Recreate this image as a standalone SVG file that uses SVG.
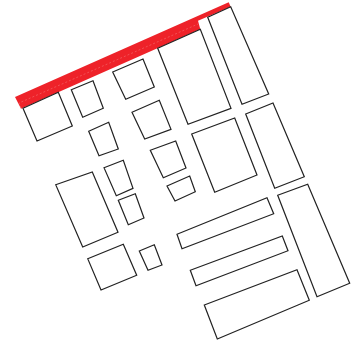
<svg xmlns="http://www.w3.org/2000/svg" width="355" height="342" viewBox="0 0 355 342">
<style>
.r{fill:#fff;stroke:#222;stroke-width:1.2;stroke-linejoin:miter}
.b{fill:#ee2229;stroke:none}
.d{fill:none;stroke:#f6a5a5;stroke-width:.5;stroke-dasharray:2 2;stroke-opacity:.7}
</style>
<rect width="355" height="342" fill="#fff"/>
<g id="band"><polygon class="b" points="15,97 228.7,2.3 230.7,6.7 198,20.7 200.3,29.3 21,108.7"/><polyline class="d" points="21,108 19,103 198,24"/></g>
<g id="n1"><polygon class="r" points="23,108.3 58.3,92.3 72.3,126 37,141"/></g>
<g id="n2"><polygon class="r" points="71.3,89.7 93,80.7 103.3,108.3 82.7,117.3"/></g>
<g id="n3"><polygon class="r" points="112.7,72 143,59 154.3,87 125.7,99.3"/></g>
<g id="n4"><polygon class="r" points="88.7,131.3 108.7,122.3 118.3,149 99,155.7"/></g>
<g id="n5"><polygon class="r" points="132,112.3 159.3,100.3 171,129.3 144.7,139"/></g>
<g id="n6"><polygon class="r" points="150.3,150.3 175.7,141 186,168 163.3,177.7"/></g>
<g id="n7"><polygon class="r" points="167,186 189.7,176 195.3,191.7 175,201"/></g>
<g id="n8"><polygon class="r" points="104,167.7 123.3,160.3 133,188.3 116.3,195.7"/></g>
<g id="n9"><polygon class="r" points="118.3,200.3 135.3,193.7 144,218 128.3,224.7"/></g>
<g id="n10"><polygon class="r" points="55.7,184.7 92.3,172 118,232.3 82.7,247"/></g>
<g id="n11"><polygon class="r" points="87.7,258.7 123.3,244.3 136.7,275.3 101,290"/></g>
<g id="n12"><polygon class="r" points="139.3,251 154.3,244.7 162,265 148,270.3"/></g>
<g id="n13"><polygon class="r" points="157.7,48.3 200.3,29.3 231,108.3 188,124.3"/></g>
<g id="n14"><polygon class="r" points="207.7,17.3 230.7,6.7 268.7,94 242,104.3"/></g>
<g id="n15"><polygon class="r" points="191.7,134 234.7,118 257,175 214.7,192.3"/></g>
<g id="n16"><polygon class="r" points="245.7,114 273,103 304.3,176.7 274.7,188.3"/></g>
<g id="n17"><polygon class="r" points="277.7,195.3 307.7,184.3 349.7,283.3 317,296.7"/></g>
<g id="n18"><polygon class="r" points="177,234.3 267,197.7 273.7,213.7 182,248.7"/></g>
<g id="n19"><polygon class="r" points="190.3,270.3 282.3,236 288,250.7 196,285.7"/></g>
<g id="n20"><polygon class="r" points="204.3,305 297,269.7 309.3,300.3 217.3,339"/></g>
<g id="connectors"></g>
</svg>
